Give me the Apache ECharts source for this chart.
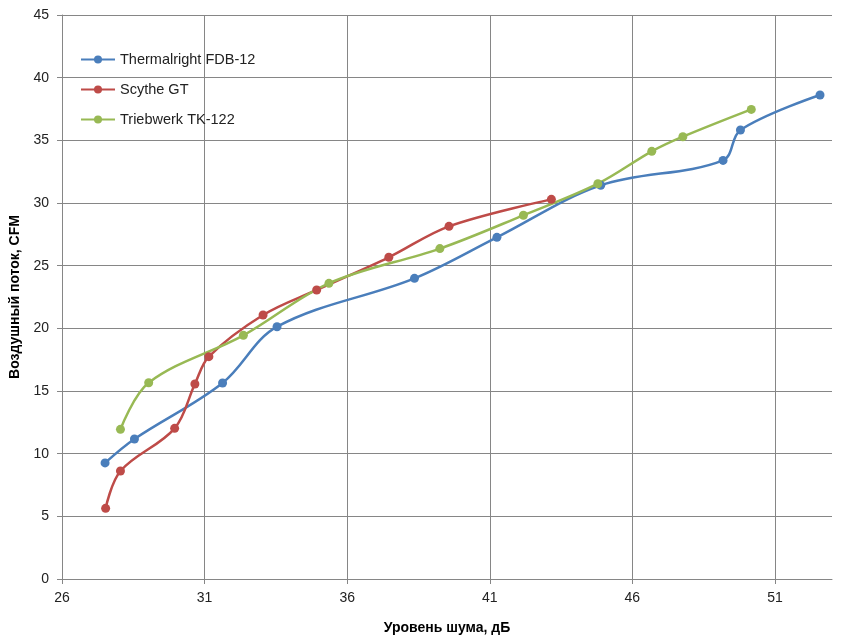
<!DOCTYPE html>
<html><head><meta charset="utf-8">
<script src="https://cdn.jsdelivr.net/npm/echarts@6/dist/echarts.min.js"></script>
<style>html,body{margin:0;padding:0;background:#fff}#c{width:862px;height:640px}</style>
</head><body><div id="c"></div>
<script>
const seriesNames = ['Thermalright FDB-12', 'Scythe GT', 'Triebwerk TK-122'];
const thermalrightX = [27.51, 28.54, 31.63, 33.54, 38.36, 41.25, 44.89, 49.18, 49.79, 52.58];
const thermalrightY = [9.26, 11.17, 15.64, 20.13, 23.99, 27.26, 31.41, 33.40, 35.82, 38.62];
const scytheX = [27.53, 28.05, 29.95, 30.66, 31.15, 33.05, 34.93, 37.46, 39.57, 43.16];
const scytheY = [5.64, 8.62, 12.02, 15.56, 17.74, 21.06, 23.06, 25.67, 28.14, 30.29];
const triebwerkX = [28.05, 29.04, 32.36, 35.36, 39.25, 42.18, 44.79, 46.68, 47.77, 50.17];
const triebwerkY = [11.94, 15.66, 19.44, 23.59, 26.36, 29.02, 31.54, 34.12, 35.29, 37.47];
const xTitle = 'Уровень шума, дБ';
const yTitle = 'Воздушный поток, CFM';

const colors = ['#4A7EBB', '#BE4B48', '#98B954'];
const pairs = (xs, ys) => xs.map((x, i) => [x, ys[i]]);
const datasets = [pairs(thermalrightX, thermalrightY), pairs(scytheX, scytheY), pairs(triebwerkX, triebwerkY)];
const font = 'Liberation Sans';
const chart = echarts.init(document.getElementById('c'));
chart.setOption({
  animation: false,
  color: colors,
  textStyle: { fontFamily: font },
  grid: { left: 62, right: 30, top: 15, bottom: 61, containLabel: false, outerBoundsMode: 'none' },
  legend: {
    orient: 'vertical', left: 75, top: 47, itemWidth: 34, itemHeight: 10, itemGap: 15,
    textStyle: { fontSize: 14.5, color: '#222', fontFamily: font },
    data: seriesNames
  },
  xAxis: {
    type: 'value', min: 26, max: 53, interval: 5,
    name: xTitle, nameLocation: 'middle', nameGap: 42,
    nameTextStyle: { fontSize: 14, fontWeight: 'bold', color: '#000', fontFamily: font },
    axisLine: { show: true, onZero: false, lineStyle: { color: '#868686', width: 1 } },
    axisTick: { show: true, length: 5, lineStyle: { color: '#868686' } },
    axisLabel: { fontSize: 14, color: '#222', margin: 12, showMaxLabel: false },
    splitLine: { show: true, showMaxLine: false, lineStyle: { color: '#868686', width: 1 } }
  },
  yAxis: {
    type: 'value', min: 0, max: 45, interval: 5,
    name: yTitle, nameLocation: 'middle', nameGap: 33, nameRotate: 90,
    nameTextStyle: { fontSize: 14, fontWeight: 'bold', color: '#000', fontFamily: font },
    axisLine: { show: true, lineStyle: { color: '#868686', width: 1 } },
    axisTick: { show: true, length: 5, lineStyle: { color: '#868686' } },
    axisLabel: { fontSize: 14, color: '#222', margin: 13 },
    splitLine: { show: true, lineStyle: { color: '#868686', width: 1 } }
  },
  series: datasets.map((d, i) => ({
    name: seriesNames[i], type: 'line', data: d, smooth: 0.35,
    symbol: 'circle', symbolSize: 9,
    lineStyle: { width: 2.5, color: colors[i] },
    itemStyle: { color: colors[i] }
  }))
});
</script></body></html>
